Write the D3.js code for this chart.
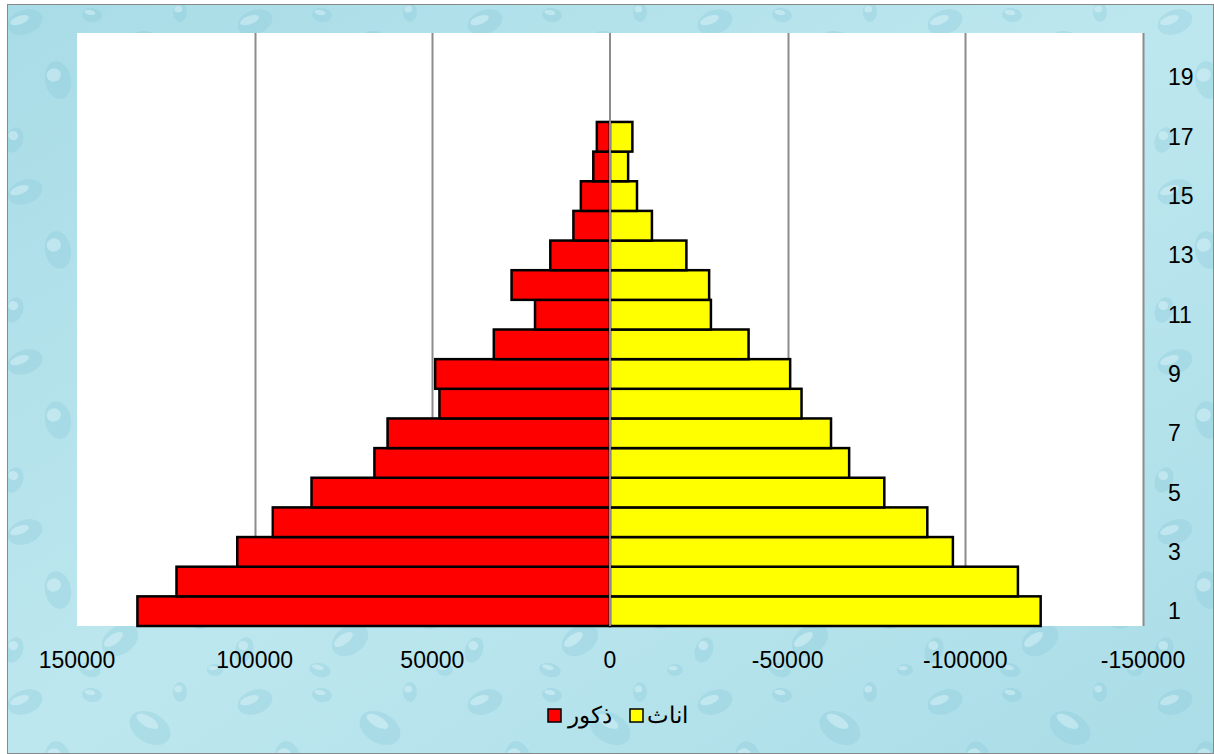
<!DOCTYPE html>
<html>
<head>
<meta charset="utf-8">
<script src="https://cdn.jsdelivr.net/npm/d3@7"></script>
<style>
  html, body { margin: 0; padding: 0; background: #fff; }
  svg { display: block; }
  text { font-family: "Liberation Sans", Arial, sans-serif; fill: #000; }
</style>
</head>
<body>
<div id="chart"></div>
<script>
// age groups (1..20), males positive, females negative
const groups = d3.range(1, 21);
const males = [133000, 122000, 104900, 94900, 84000, 66300, 62600, 48000, 49200, 32700,
               21100, 27700, 16800, 10300, 8200, 4700, 3700, 0, 0, 0];
const females = [-121200, -114800, -96500, -89300, -77200, -67300, -62200, -53900, -50700, -39000,
                 -28400, -27900, -21500, -11800, -7600, -5100, -6300, 0, 0, 0];
const xTicks = [150000, 100000, 50000, 0, -50000, -100000, -150000];
const seriesNames = ["ذكور", "اناث"];
const seriesColors = ["#ff0000", "#ffff00"];

const W = 1214, H = 754;
const plot = { left: 77, right: 1143, top: 33, bottom: 626 };

const svg = d3.select("#chart").append("svg")
    .attr("width", W)
    .attr("height", H);

// background: light water texture
const defs = svg.append("defs");
const grad = defs.append("linearGradient").attr("id", "bg")
    .attr("x1", 0).attr("y1", 0).attr("x2", 1).attr("y2", 1);
grad.append("stop").attr("offset", "0%").attr("stop-color", "#a8dce6");
grad.append("stop").attr("offset", "50%").attr("stop-color", "#bde7ef");
grad.append("stop").attr("offset", "100%").attr("stop-color", "#aadde7");

const drops = defs.append("pattern").attr("id", "drops")
    .attr("patternUnits", "userSpaceOnUse")
    .attr("width", 230).attr("height", 170);
// fixed droplet shapes inside one tile (decoration only)
[[25, 22, 18, 12, -20], [92, 15, 10, 7, 10], [150, 48, 22, 15, 30], [58, 80, 13, 19, -10],
 [200, 110, 12, 9, 0], [14, 140, 9, 13, 20], [120, 130, 20, 14, -35], [180, 12, 7, 10, 0],
 [90, 160, 11, 7, 15], [215, 160, 8, 6, 0]]
  .forEach(([cx, cy, rx, ry, rot]) => {
    const g = drops.append("g").attr("transform", `translate(${cx},${cy}) rotate(${rot})`);
    g.append("ellipse").attr("rx", rx).attr("ry", ry)
        .attr("fill", "#86c9d7").attr("fill-opacity", 0.3);
    g.append("ellipse").attr("cx", -rx * 0.25).attr("cy", -ry * 0.3)
        .attr("rx", rx * 0.55).attr("ry", ry * 0.35)
        .attr("fill", "#e2f6fa").attr("fill-opacity", 0.45);
  });

svg.append("rect")
    .attr("x", 7.5).attr("y", 4.5)
    .attr("width", W - 8).attr("height", H - 5)
    .attr("fill", "url(#bg)")
    .attr("stroke", "#888").attr("stroke-width", 1);
svg.append("rect")
    .attr("x", 8).attr("y", 5)
    .attr("width", W - 9).attr("height", H - 6)
    .attr("fill", "url(#drops)");

// plot area
svg.append("rect")
    .attr("x", plot.left).attr("y", plot.top)
    .attr("width", plot.right - plot.left).attr("height", plot.bottom - plot.top)
    .attr("fill", "#fff");

const x = d3.scaleLinear().domain([150000, -150000]).range([plot.left, plot.right]);
const y = d3.scaleBand().domain(groups).range([plot.bottom, plot.top]).padding(0);

// grid lines
svg.append("g").selectAll("line")
    .data(xTicks.filter(t => t !== 150000 && t !== 0))
    .join("line")
    .attr("x1", d => Math.round(x(d)) + 0.5).attr("x2", d => Math.round(x(d)) + 0.5)
    .attr("y1", plot.top).attr("y2", plot.bottom)
    .attr("stroke", "#8c8c8c").attr("stroke-width", 2);

// bars
const bars = svg.append("g");
[males, females].forEach((vals, si) => {
  bars.selectAll(".s" + si)
    .data(groups.map((g, i) => ({ g, v: vals[i] })).filter(d => d.v !== 0))
    .join("rect")
    .attr("class", "s" + si)
    .attr("x", d => Math.min(x(d.v), x(0)))
    .attr("y", d => y(d.g))
    .attr("width", d => Math.abs(x(d.v) - x(0)))
    .attr("height", y.bandwidth())
    .attr("fill", seriesColors[si])
    .attr("stroke", "#000")
    .attr("stroke-width", 2.5);
});

// zero axis line
svg.append("line")
    .attr("x1", x(0)).attr("x2", x(0))
    .attr("y1", plot.top).attr("y2", plot.bottom)
    .attr("stroke", "#8c8c8c").attr("stroke-width", 2);

// x tick labels
svg.append("g").selectAll("text")
    .data(xTicks)
    .join("text")
    .attr("x", d => x(d))
    .attr("y", 668)
    .attr("text-anchor", "middle")
    .attr("font-size", 23)
    .text(d => d);

// category labels on the right
svg.append("g").selectAll("text")
    .data(groups.filter(g => g % 2 === 1))
    .join("text")
    .attr("x", 1168)
    .attr("y", d => y(d) + y.bandwidth() / 2 + 8)
    .attr("text-anchor", "start")
    .attr("font-size", 23)
    .text(d => d);

// legend
const legend = svg.append("g");
const legendItems = [
  { sq: 548, tx: 612, name: seriesNames[0], color: seriesColors[0] },
  { sq: 630, tx: 688, name: seriesNames[1], color: seriesColors[1] }
];
legendItems.forEach(it => {
  legend.append("rect")
    .attr("x", it.sq).attr("y", 709)
    .attr("width", 13).attr("height", 13)
    .attr("fill", it.color).attr("stroke", "#000").attr("stroke-width", 1.5);
  legend.append("text")
    .attr("x", it.tx).attr("y", 723)
    .attr("text-anchor", "end")
    .attr("font-size", 23)
    .text(it.name);
});
</script>
</body>
</html>
